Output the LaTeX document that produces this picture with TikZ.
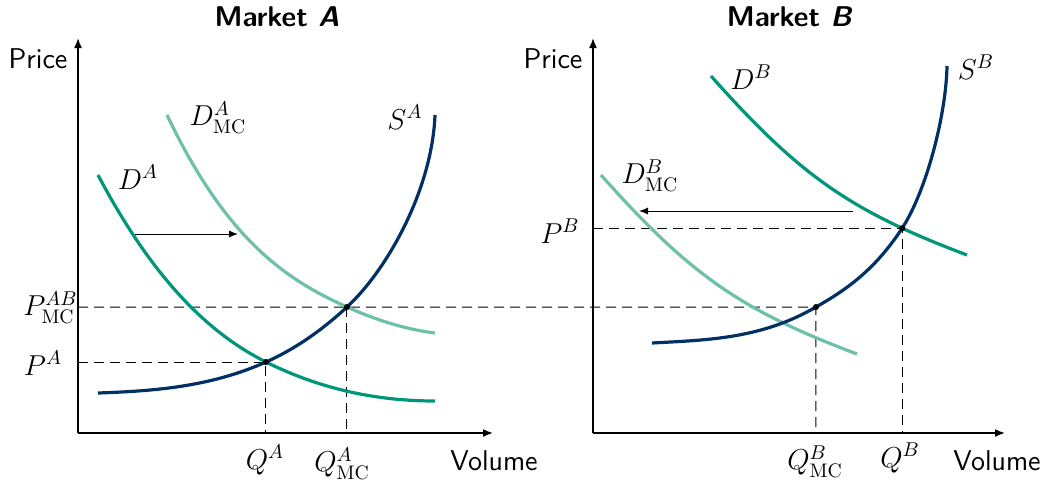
\documentclass[tikz,border=0pt]{standalone}
\usepackage{fontspec}
\usepackage{amsmath}
\usetikzlibrary{arrows.meta,intersections,backgrounds}
\definecolor{supply}{RGB}{0,48,100}
\definecolor{demand}{RGB}{0,150,122}
\definecolor{demandmc}{RGB}{110,192,168}

\begin{document}
\begin{tikzpicture}[
  x=0.5pt, y=-0.5pt,
  axis/.style={line width=0.8pt, -{Latex[length=5pt,width=4pt]}},
  curve/.style={line width=1.6pt},
  guide/.style={line width=0.5pt, dash pattern=on 5pt off 3pt},
  shiftarr/.style={line width=0.5pt, -{Latex[length=4.5pt,width=3.5pt]}},
  txt/.style={font=\fontsize{14.3}{17}\selectfont\sffamily, inner sep=0pt},
  ttl/.style={txt, font=\fontsize{14.3}{17}\selectfont\sffamily\bfseries},
  mlbl/.style={inner sep=0pt, font=\fontsize{14}{17}\selectfont},
  dot/.style={circle, fill, inner sep=0pt, minimum size=3pt}
]
\useasboundingbox (0,0) rectangle (1047,483);

% axes
\coordinate (oA) at (78,433);
\coordinate (yA) at (78,38);
\coordinate (xA) at (493,433);
\coordinate (oB) at (593,433);
\coordinate (yB) at (593,38);
\coordinate (xB) at (1005,433);

\node[ttl] (titleA) at (277,17) {Market \textit{A}};
\node[ttl] (titleB) at (790,17) {Market \textit{B}};
\node[txt] (priceA) at (38,59) {Price};
\node[txt] (priceB) at (553,59) {Price};
\node[txt] (volA) at (494,461) {Volume};
\node[txt] (volB) at (997,461) {Volume};

\draw[axis] (oA) -- (yA);
\draw[axis] (oA) -- (xA);
\draw[axis] (oB) -- (yB);
\draw[axis] (oB) -- (xB);

% market A
\draw[curve, demand, name path=DA] (98,175) .. controls (154,281) and (210,334) .. (266,362)
  .. controls (322,390) and (379,401) .. (435,401);
\draw[curve, demandmc, name path=DAmc] (167,115) .. controls (227,241) and (287,280) .. (347,307)
  .. controls (376,320) and (406,329.5) .. (435,333);
\draw[curve, supply, name path=SA] (98,393) .. controls (154,391) and (210,387) .. (266,362)
  .. controls (293,350) and (320,332) .. (347,307)
  .. controls (387,270) and (432,190) .. (435,115);

% market B
\draw[curve, demand, name path=DB] (711,76) .. controls (799,175) and (850,211) .. (967,255);
\draw[curve, demandmc, name path=DBmc] (601,175) .. controls (689,274) and (740,310) .. (857,354);
\draw[curve, supply, name path=SB] (652,343) .. controls (707,340) and (761,339) .. (816,307)
  .. controls (844,291) and (873,272) .. (901,230)
  .. controls (926,192.5) and (946,116) .. (947,66);

\path[name intersections={of=SA and DA, by=eA}];
\path[name intersections={of=SA and DAmc, by=eAmc}];
\path[name intersections={of=SB and DB, by=eB}];
\path[name path=hAB] (oA |- eAmc) -- (xB |- eAmc);
\path[name intersections={of=SB and hAB, by=eBmc}];

\begin{scope}[on background layer]
  \draw[guide] (oA |- eA) -- (eA) -- (eA |- oA);
  \draw[guide] (oA |- eAmc) -- (eBmc) -- (eBmc |- oB);
  \draw[guide] (eAmc) -- (eAmc |- oA);
  \draw[guide] (oB |- eB) -- (eB) -- (eB |- oB);
\end{scope}

\coordinate (shA1) at (135,234);
\coordinate (shA2) at (238,234);
\coordinate (shB1) at (853,211);
\coordinate (shB2) at (639,211);
\draw[shiftarr] (shA1) -- (shA2);
\draw[shiftarr] (shB1) -- (shB2);

\node[dot] at (eA) {};
\node[dot] at (eAmc) {};
\node[dot] at (eB) {};
\node[dot] at (eBmc) {};

\node[mlbl] (lDA) at (138,177) {$D^{A}$};
\node[mlbl] (lDAmc) at (218,118) {$D^{A}_{\mathrm{MC}}$};
\node[mlbl] (lSA) at (405,117) {$S^{A}$};
\node[mlbl, anchor=east] (lPAB) at (78,308) {$P^{AB}_{\mathrm{MC}}$};
\node[mlbl] (lPA) at (43,363) {$P^{A}$};
\node[mlbl] (lQA) at (265,460) {$Q^{A}$};
\node[mlbl] (lQAmc) at (342,464) {$Q^{A}_{\mathrm{MC}}$};

\node[mlbl] (lDB) at (751,77) {$D^{B}$};
\node[mlbl] (lSB) at (976,67) {$S^{B}$};
\node[mlbl] (lDBmc) at (650,176) {$D^{B}_{\mathrm{MC}}$};
\node[mlbl] (lPB) at (560,231) {$P^{B}$};
\node[mlbl] (lQBmc) at (815,462) {$Q^{B}_{\mathrm{MC}}$};
\node[mlbl] (lQB) at (900,458) {$Q^{B}$};
\end{tikzpicture}
\end{document}
